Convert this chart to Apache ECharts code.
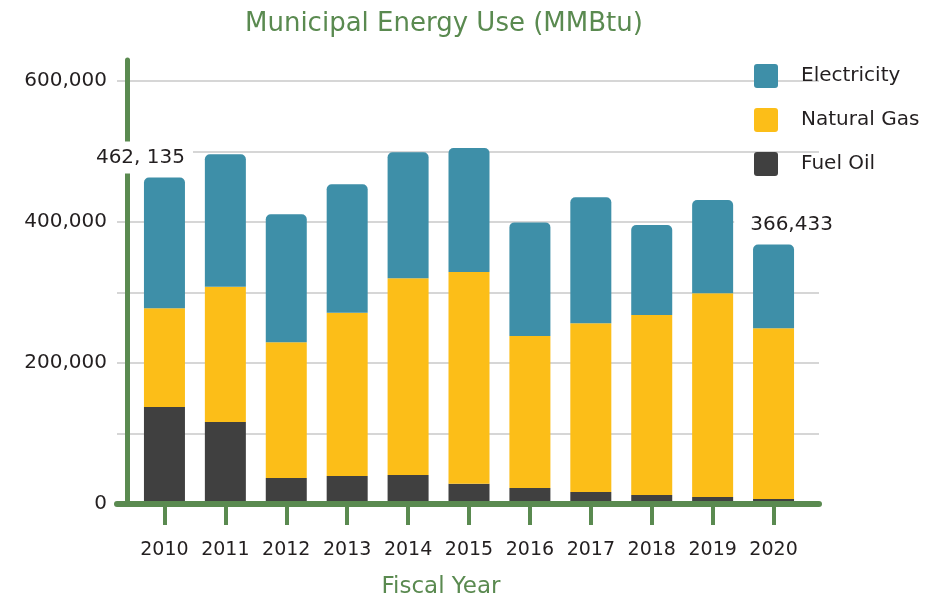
<!DOCTYPE html>
<html>
<head>
<meta charset="utf-8">
<style>
	html, body { margin: 0; padding: 0; background: #fff; }
	#energyUse { width: 926px; height: 598px; }
</style>
<script src="https://cdn.jsdelivr.net/npm/echarts@6/dist/echarts.min.js"></script>
</head>
<body>
<div id="energyUse"></div>
<script>
var years = ['2010', '2011', '2012', '2013', '2014', '2015', '2016', '2017', '2018', '2019', '2020'];
var fuelOil = [134300, 112900, 32900, 35700, 37100, 24700, 18600, 12900, 8600, 5700, 2900];
var naturalGas = [141000, 193200, 193800, 233300, 281000, 302400, 217100, 240900, 257100, 291000, 243800];
var electricity = [186835, 189200, 182900, 183400, 180000, 177200, 162300, 180100, 128600, 133300, 119733];
// 只有首尾两年有总量标注
var totalLabels = ['462, 135', '', '', '', '', '', '', '', '', '', '366,433'];

var green = '#5a8a50';
var font = 'DejaVu Sans';

var elecData = electricity.map(function(v, i) {
	var item = { value: v };
	if (totalLabels[i]) {
		item.label = {
			show: true,
			position: 'top',
			distance: 4,
			formatter: totalLabels[i],
			color: '#231f20',
			fontFamily: font,
			fontSize: 20,
			lineHeight: 24,
			backgroundColor: '#fff',
			padding: i == 0 ? [4, 8, 4, 6] : [4, 6, 4, 16],
			offset: i == 0 ? [-23, 0] : [13, 0]
		};
	}
	return item;
});

echarts.init(document.getElementById('energyUse')).setOption({
	backgroundColor: '#fff',
	animation: false,
	title: {
		text: 'Municipal Energy Use (MMBtu)',
		left: 240,
		top: 6,
		textStyle: {
			color: green,
			fontFamily: font,
			fontSize: 26,
			fontWeight: 'normal'
		}
	},
	legend: {
		data: ['Electricity', 'Natural Gas', 'Fuel Oil'],
		orient: 'vertical',
		left: 754,
		top: 64,
		padding: 0,
		itemWidth: 24,
		itemHeight: 24,
		itemGap: 20,
		icon: 'path://M3,0H21A3,3,0,0,1,24,3V21A3,3,0,0,1,21,24H3A3,3,0,0,1,0,21V3A3,3,0,0,1,3,0Z',
		textStyle: {
			color: '#231f20',
			fontFamily: font,
			fontSize: 20,
			padding: [0, 0, 0, 18]
		}
	},
	grid: [{
		left: 134,
		right: 122,
		top: 81,
		bottom: 97,
		outerBoundsMode: 'none'
	}, {
		left: 117,
		right: 107,
		top: 81,
		bottom: 94,
		outerBoundsMode: 'none'
	}, {
		left: 127,
		right: 107,
		top: 60,
		bottom: 94,
		outerBoundsMode: 'none'
	}],
	xAxis: [{
		gridIndex: 0,
		type: 'category',
		data: years,
		name: 'Fiscal Year',
		nameLocation: 'middle',
		nameGap: 75,
		nameTextStyle: {
			color: green,
			fontFamily: font,
			fontSize: 23,
			padding: [0, 56, 0, 0]
		},
		axisLine: { show: false },
		axisTick: {
			show: true,
			alignWithLabel: true,
			length: 24,
			lineStyle: { color: green, width: 4 }
		},
		axisLabel: {
			interval: 0,
			margin: 40,
			color: '#231f20',
			fontFamily: font,
			fontSize: 19
		}
	}, {
		gridIndex: 1,
		type: 'value',
		min: 0,
		max: 1,
		axisLine: { show: true, lineStyle: { color: green, width: 6 } },
		axisTick: { show: false },
		axisLabel: { show: false },
		splitLine: { show: false }
	}, {
		gridIndex: 2,
		type: 'value',
		show: false
	}],
	yAxis: [{
		gridIndex: 0,
		type: 'value',
		min: 0,
		max: 600000,
		show: false
	}, {
		gridIndex: 1,
		type: 'value',
		min: 0,
		max: 600000,
		interval: 100000,
		axisLine: { show: false },
		axisTick: { show: false },
		axisLabel: {
			margin: 10,
			color: '#231f20',
			fontFamily: font,
			fontSize: 20,
			formatter: function(v) {
				return v % 200000 == 0 ? v.toLocaleString('en-US') : '';
			}
		},
		splitLine: { show: true, lineStyle: { color: '#c8c8c8', width: 1.5 } }
	}, {
		gridIndex: 2,
		type: 'value',
		axisLine: { show: true, lineStyle: { color: green, width: 5 } },
		axisTick: { show: false },
		axisLabel: { show: false },
		splitLine: { show: false }
	}],
	series: [{
		name: 'Fuel Oil',
		type: 'bar',
		stack: 'total',
		barWidth: 41,
		itemStyle: { color: '#404040' },
		data: fuelOil
	}, {
		name: 'Natural Gas',
		type: 'bar',
		stack: 'total',
		barWidth: 41,
		itemStyle: { color: '#fcbe18' },
		data: naturalGas
	}, {
		name: 'Electricity',
		type: 'bar',
		stack: 'total',
		barWidth: 41,
		itemStyle: { color: '#3e8fa8', borderRadius: [5, 5, 0, 0] },
		data: elecData
	}]
});
</script>
</body>
</html>
